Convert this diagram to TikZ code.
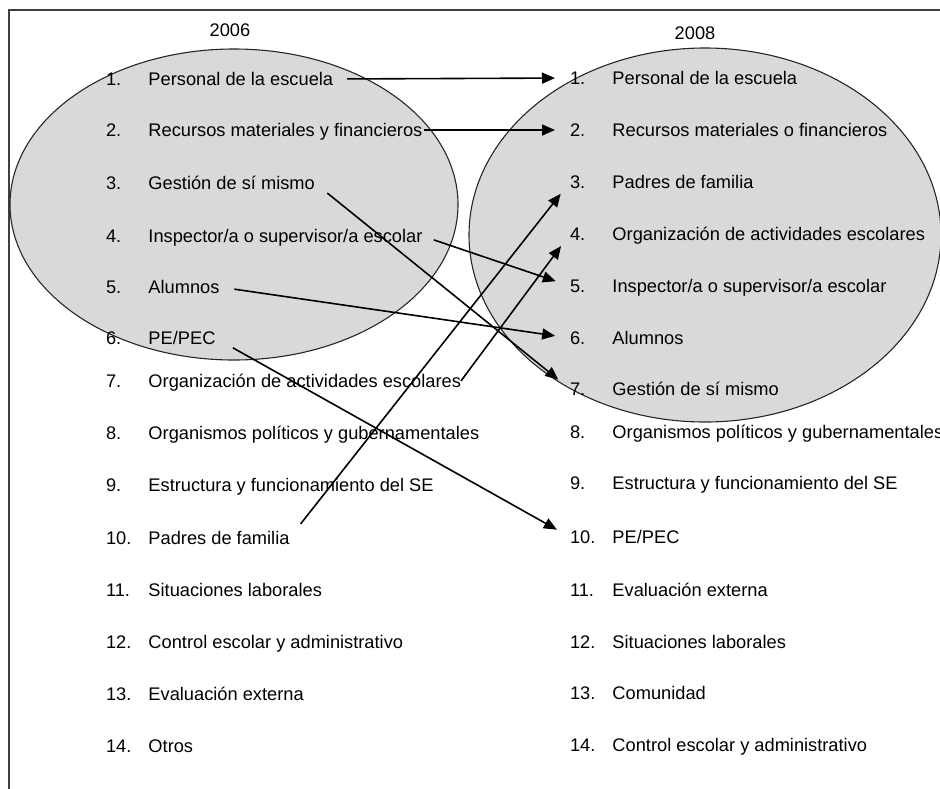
\documentclass[tikz,border=0pt]{standalone}
\usepackage{fontspec}
\setmainfont{Liberation Sans}
\usetikzlibrary{arrows.meta}
\tikzset{%
year label/.style={font=\fontsize{18.25}{22}\selectfont, inner sep=0pt},
list item/.style={
    anchor=west,
    inner sep=0pt, outer sep=0pt,
    text height=13pt, text depth=0pt,
    font=\fontsize{18.25}{22}\selectfont
  },
group ellipse/.style={draw=black!85, fill=black!15, line width=1.1pt},
link/.style={-{Triangle[length=13pt,width=11pt]}, line width=1.6pt,
    shorten >=15pt, shorten <=14pt},
frame/.style={draw=black!75, line width=1.8pt}
}
\newcommand{\itemno}[1]{\makebox[42.5pt][l]{#1}}

\begin{document}
\begin{tikzpicture}[x=1pt,y=-1pt]
\clip (0,0) rectangle (940,788);
\draw [frame] (9,10) rectangle (960,810);

% the two groups
\path [group ellipse] (234,204.5) ellipse [x radius=224pt, y radius=155.5pt];
\path [group ellipse] (705,235) ellipse [x radius=236pt, y radius=187pt];

\node [year label] (y2006) at (230,30) {2006};
\node [year label] (y2008) at (695,33) {2008};

% 2006
\node [list item] (l1)  at (106,79)  {\itemno{1.}Personal de la escuela};
\node [list item] (l2)  at (106,130) {\itemno{2.}Recursos materiales y financieros};
\node [list item] (l3)  at (106,183) {\itemno{3.}Gestión de sí mismo};
\node [list item] (l4)  at (106,236) {\itemno{4.}Inspector/a o supervisor/a escolar};
\node [list item] (l5)  at (106,287) {\itemno{5.}Alumnos};
\node [list item] (l6)  at (106,338) {\itemno{6.}PE/PEC};
\node [list item] (l7)  at (106,381) {\itemno{7.}Organización de actividades escolares};
\node [list item] (l8)  at (106,433) {\itemno{8.}Organismos políticos y gubernamentales};
\node [list item] (l9)  at (106,485) {\itemno{9.}Estructura y funcionamiento del SE};
\node [list item] (l10) at (106,538) {\itemno{10.}Padres de familia};
\node [list item] (l11) at (106,590) {\itemno{11.}Situaciones laborales};
\node [list item] (l12) at (106,642) {\itemno{12.}Control escolar y administrativo};
\node [list item] (l13) at (106,694) {\itemno{13.}Evaluación externa};
\node [list item] (l14) at (106,746) {\itemno{14.}Otros};

% 2008
\node [list item] (r1)  at (570,78)  {\itemno{1.}Personal de la escuela};
\node [list item] (r2)  at (570,130) {\itemno{2.}Recursos materiales o financieros};
\node [list item] (r3)  at (570,182) {\itemno{3.}Padres de familia};
\node [list item] (r4)  at (570,234) {\itemno{4.}Organización de actividades escolares};
\node [list item] (r5)  at (570,286) {\itemno{5.}Inspector/a o supervisor/a escolar};
\node [list item] (r6)  at (570,338) {\itemno{6.}Alumnos};
\node [list item] (r7)  at (570,389) {\itemno{7.}Gestión de sí mismo};
\node [list item] (r8)  at (570,432) {\itemno{8.}Organismos políticos y gubernamentales};
\node [list item] (r9)  at (570,483) {\itemno{9.}Estructura y funcionamiento del SE};
\node [list item] (r10) at (570,537) {\itemno{10.}PE/PEC};
\node [list item] (r11) at (570,590) {\itemno{11.}Evaluación externa};
\node [list item] (r12) at (570,642) {\itemno{12.}Situaciones laborales};
\node [list item] (r13) at (570,693) {\itemno{13.}Comunidad};
\node [list item] (r14) at (570,745) {\itemno{14.}Control escolar y administrativo};

% changes of rank
\draw [link] (l1.east) -- (r1.west);
\draw [link, shorten <=2pt] (l2.east) -- (r2.west);
\draw [link, shorten <=16pt] (l3.east) -- (r7.west);
\draw [link, shorten <=12pt] (l4.east) -- (r5.west);
\draw [link, shorten <=15pt] (l5.east) -- (r6.west);
\draw [link, shorten <=20pt] (l6.east) -- (r10.west);
\draw [link, shorten <=0pt] (l7.east) -- (r4.west);
\draw [link, shorten <=18pt] (l10.east) -- (r3.west);
\end{tikzpicture}
\end{document}
